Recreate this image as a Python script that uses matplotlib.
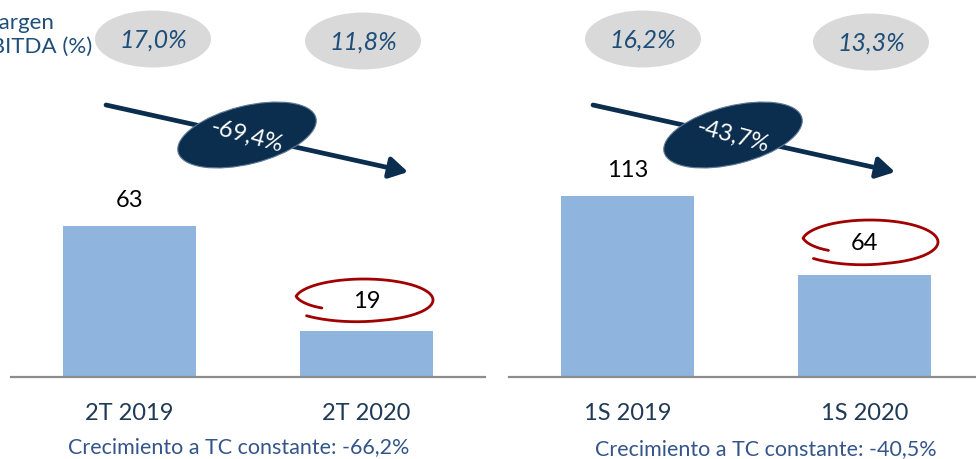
import numpy as np
import matplotlib
matplotlib.use("Agg")
import matplotlib.pyplot as plt
from matplotlib.patches import Ellipse, FancyArrowPatch
from matplotlib.lines import Line2D
from matplotlib.transforms import Affine2D

# ---- data ----
left_categories = ["2T 2019", "2T 2020"]
left_values = [63, 19]
right_categories = ["1S 2019", "1S 2020"]
right_values = [113, 64]
left_margins = ["17,0%", "11,8%"]
right_margins = ["16,2%", "13,3%"]
left_change = "-69,4%"
right_change = "-43,7%"
left_growth = "Crecimiento a TC constante: -66,2%"
right_growth = "Crecimiento a TC constante: -40,5%"
margin_title = "Margen\nEBITDA (%)"

plt.rcParams['font.family'] = ['Lato', 'DejaVu Sans']

W, H = 976, 460
fig = plt.figure(figsize=(W / 100, H / 100), dpi=100)
px = Affine2D().scale(1 / 100, -1 / 100).translate(0, H / 100) + fig.dpi_scale_trans

BAR = "#8FB4DE"
NAVY = "#1F4E79"
DARK = "#0B2D4E"
TICK = "#1F3A57"
GROW = "#34558A"
RED = "#A00000"
base_y = 378


def make_axes(x0, width, ytop, cats, vals, offsets):
    ax = fig.add_axes([x0 / W, (H - base_y) / H, width / W, base_y / H])
    ax.bar(range(len(vals)), vals, width=0.557, color=BAR, zorder=2)
    ax.set_xlim(-0.5, 1.5)
    ax.set_ylim(0, ytop)
    for s in ["left", "right", "top"]:
        ax.spines[s].set_visible(False)
    ax.spines["bottom"].set_color("#8C8C8C")
    ax.spines["bottom"].set_linewidth(1.6)
    ax.set_yticks([])
    ax.set_xticks(range(len(cats)))
    ax.set_xticklabels(cats, fontsize=17, color=TICK)
    ax.tick_params(axis="x", length=0, pad=18)
    ax.patch.set_alpha(0)
    for i, v in enumerate(vals):
        ax.annotate(str(v), xy=(i, v), xytext=(0, offsets[i]), textcoords="offset points",
                    ha="center", va="center", fontsize=17, color="black")
    return ax


make_axes(11, 474, 378 / 2.40, left_categories, left_values, [19, 22])
make_axes(509, 474, 378 / 1.60, right_categories, right_values, [19, 23])

# margin ellipses
for (cx, cy), txt in zip([(153, 40), (363, 42), (643, 40), (871, 43)], left_margins + right_margins):
    fig.add_artist(Ellipse((cx, cy), 116, 57, transform=px, facecolor="#D9D9D9", edgecolor="none", zorder=1))
    fig.text(cx, cy, txt, transform=px, ha="center", va="center", fontsize=18,
             style="italic", color=NAVY, zorder=3)

fig.text(-22, 35, margin_title, transform=px, ha="left", va="center", fontsize=16,
         color=NAVY, linespacing=1.25)

# arrows + dark ellipses
for (x0, y0, x1, y1), (ecx, ecy), txt in [((106, 106, 408, 173), (247, 136), left_change),
                                          ((593, 106, 895, 173), (733, 136), right_change)]:
    fig.add_artist(FancyArrowPatch((x0, y0), (x1, y1), transform=px,
                                   arrowstyle="-|>,head_length=0.55,head_width=0.32",
                                   mutation_scale=20, lw=3.4, color=DARK, zorder=2,
                                   shrinkA=0, shrinkB=0))
    fig.add_artist(Ellipse((ecx, ecy), 142, 58, angle=-14, transform=px, facecolor=DARK,
                           edgecolor="#5D7A96", lw=0.8, zorder=3))
    fig.text(ecx, ecy, txt, transform=px, ha="center", va="center", fontsize=17,
             color="white", rotation=-15, rotation_mode="anchor", zorder=4)

# hand-drawn red ovals
def red_oval(cx, cy, a, b):
    u = np.linspace(0, 1, 300)
    t = np.deg2rad(212 - 350 * u)
    s = 0.72 + 0.28 * np.clip(u / 0.12, 0, 1) + 0.12 * np.clip((u - 0.82) / 0.18, 0, 1)
    xs = cx + s * a * np.cos(t)
    ys = cy - s * b * np.sin(t)
    fig.add_artist(Line2D(xs, ys, transform=px, color=RED, lw=2.0, solid_capstyle="round", zorder=5))


red_oval(364, 301, 69, 21)
red_oval(870, 243, 68, 22)

fig.text(239, 447, left_growth, transform=px, ha="center", va="center", fontsize=15.5, color=GROW)
fig.text(766, 449, right_growth, transform=px, ha="center", va="center", fontsize=15.5, color=GROW)

fig.savefig("out.png", dpi=100)
